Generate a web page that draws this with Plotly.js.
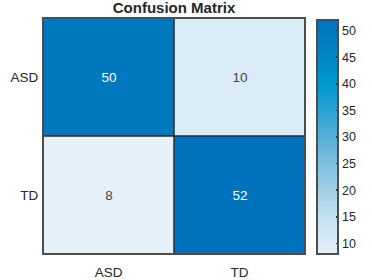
<!DOCTYPE html>
<html><head><meta charset="utf-8">
<script src="https://cdn.plot.ly/plotly-3.0.1.min.js"></script>
<style>html,body{margin:0;padding:0;background:#fff}#chart{width:372px;height:280px}</style>
</head><body><div id="chart"></div>
<script>
const predictedLabels = ['ASD', 'TD'];
const trueLabels = ['ASD', 'TD'];
const rowASD = [50, 10];
const rowTD = [8, 52];
const colorTicks = [10, 15, 20, 25, 30, 35, 40, 45, 50];

const FONT = 'Liberation Sans, Arial, sans-serif';
const z = [rowASD, rowTD];
const trace = {
  type: 'heatmap',
  x: predictedLabels,
  y: trueLabels,
  z: z,
  zmin: 8, zmax: 52,
  colorscale: [
    [0, '#e4f1f8'],
    [0.16, '#c2e0ef'],
    [0.27, '#a3d0e7'],
    [0.39, '#7dbfdf'],
    [0.5, '#55afd8'],
    [0.61, '#2ca3d3'],
    [0.72, '#009ad0'],
    [0.84, '#0087c4'],
    [1, '#0072bd']
  ],
  texttemplate: '%{z}',
  textfont: {size: 13.5, family: FONT},
  hoverinfo: 'skip',
  colorbar: {
    x: 1.045, xanchor: 'left', xpad: 0,
    y: 0, yanchor: 'bottom', ypad: 0,
    lenmode: 'pixels', len: 234,
    thicknessmode: 'pixels', thickness: 21,
    tickvals: colorTicks,
    tickprefix: ' ',
    ticks: 'inside', ticklen: 3, tickwidth: 1.5, tickcolor: '#333',
    outlinecolor: '#4d4d4d', outlinewidth: 2,
    tickfont: {size: 12.5, color: '#262626', family: FONT}
  }
};

const layout = {
  width: 372, height: 280,
  margin: {l: 43, r: 65, t: 18, b: 26},
  paper_bgcolor: '#fff', plot_bgcolor: '#fff',
  font: {family: FONT, color: '#262626', size: 13.5},
  title: {text: '<b>Confusion Matrix</b>', font: {size: 15, color: '#262626', family: FONT},
          xref: 'paper', x: 0.5, xanchor: 'center', yref: 'container', y: 0.972, yanchor: 'middle', pad: {t: 0, b: 0}},
  xaxis: {type: 'category', showgrid: false, zeroline: false, ticks: '', showline: false,
          tickfont: {size: 13.5}, ticklabelstandoff: 8},
  yaxis: {type: 'category', autorange: 'reversed', showgrid: false, zeroline: false, ticks: '', showline: false,
          tickfont: {size: 13.5}, ticksuffix: ' '},
  shapes: [
    {type: 'line', xref: 'paper', yref: 'paper', x0: 0.5, x1: 0.5, y0: 0, y1: 1, line: {color: '#2b2b2b', width: 1.5}},
    {type: 'line', xref: 'paper', yref: 'paper', x0: 0, x1: 1, y0: 0.5, y1: 0.5, line: {color: '#2b2b2b', width: 1.5}},
    {type: 'rect', xref: 'paper', yref: 'paper', x0: 0, x1: 1, y0: 0, y1: 1, line: {color: '#4d4d4d', width: 2}}
  ]
};

Plotly.newPlot('chart', [trace], layout, {displayModeBar: false, staticPlot: true});
</script></body></html>
